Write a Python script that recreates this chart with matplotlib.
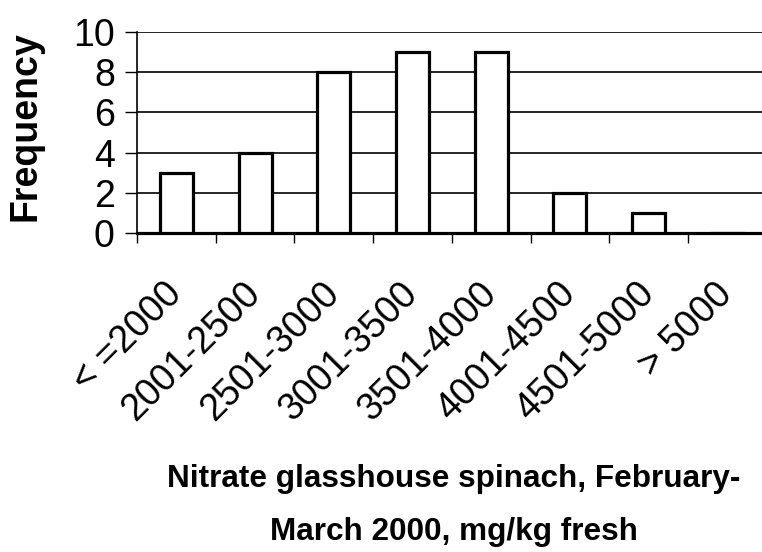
import numpy as np
import matplotlib
matplotlib.use("Agg")
import matplotlib.pyplot as plt
import matplotlib.transforms as mtransforms

categories = ["< =2000", "2001-2500", "2501-3000", "3001-3500",
              "3501-4000", "4001-4500", "4501-5000", "> 5000"]
frequency = [3, 4, 8, 9, 9, 2, 1, 0]
yticks = [0, 2, 4, 6, 8, 10]

plt.rcParams['font.family'] = ['Liberation Sans', 'DejaVu Sans']

fig = plt.figure(figsize=(7.62, 5.52), dpi=100)
# plot area runs slightly past the right edge, like the original
ax = fig.add_axes([137 / 762, 1 - 233 / 552, 629.6 / 762, 201 / 552])

x = np.arange(len(categories))
ax.bar(x, frequency, width=0.42, color='white', edgecolor='black',
       linewidth=2.3, zorder=3)

ax.set_xlim(-0.5, len(categories) - 0.5)
ax.set_ylim(0, 10)
ax.set_yticks(yticks)
ax.set_yticklabels([str(v) for v in yticks], fontsize=27)
ax.yaxis.grid(True, color='black', linewidth=1.2, zorder=0)
ax.set_axisbelow(True)

# boundary ticks on x, labels sit at the category centres
ax.set_xticks(np.arange(len(categories) + 1) - 0.5)
ax.set_xticklabels([])
ax.set_xticks(x, minor=True)
labels = ax.set_xticklabels(categories, minor=True, rotation=45, ha='right',
                            va='center', rotation_mode='anchor', fontsize=27)
shift = mtransforms.ScaledTranslation(9 / 100, 0, fig.dpi_scale_trans)
for lab in labels:
    lab.set_transform(lab.get_transform() + shift)
ax.tick_params(axis='x', which='major', length=7, width=1, direction='out')
ax.tick_params(axis='x', which='minor', length=0, pad=40)
ax.tick_params(axis='y', length=9, width=1, pad=7)

for side in ['top', 'right']:
    ax.spines[side].set_visible(False)
ax.spines['left'].set_linewidth(1.2)
ax.spines['bottom'].set_linewidth(2.3)

ax.set_ylabel("Frequency", fontsize=27, fontweight='bold')
ax.yaxis.set_label_coords(-0.148, 0.53)

ax.set_xlabel("Nitrate glasshouse spinach, February-\nMarch 2000, mg/kg fresh",
              fontsize=22.7, fontweight='bold', linespacing=2.0, va='top')
ax.xaxis.set_label_coords(0.503, -1.15)

fig.savefig("out.png", dpi=100)
